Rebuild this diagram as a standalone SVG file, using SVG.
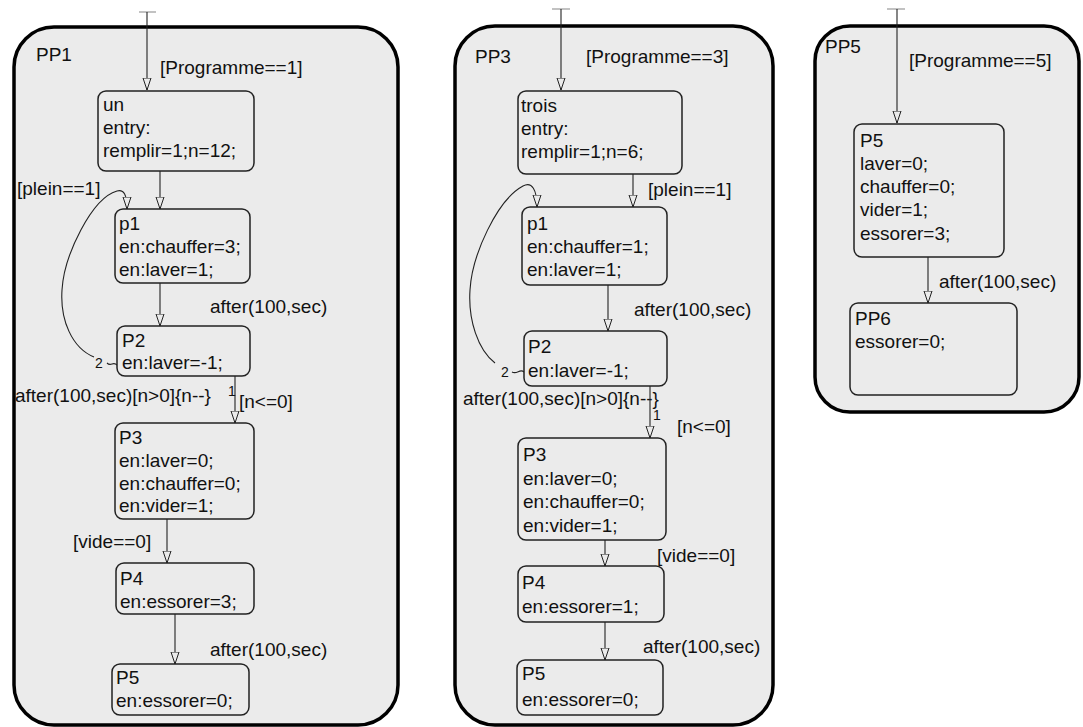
<svg xmlns="http://www.w3.org/2000/svg" width="1083" height="727" viewBox="0 0 1083 727">
<style>
text{font-family:"Liberation Sans",Arial,sans-serif;font-size:19px;fill:#111}
.sm{font-size:14px}
.outer{fill:#ebebeb;stroke:#000;stroke-width:3.5}
.st{fill:#ebebeb;stroke:#222;stroke-width:1.5}
.cn{fill:none;stroke:#222;stroke-width:1.1}
.tick{fill:none;stroke:#999;stroke-width:1.2}
</style>
<defs>
<marker id="arr" viewBox="0 0 13 10" refX="12.5" refY="5" markerWidth="13" markerHeight="10" markerUnits="userSpaceOnUse" orient="auto">
<path d="M0.5,1 L12.5,5 L0.5,9 Z" fill="#ebebeb" stroke="#222" stroke-width="1"/>
</marker>
</defs>
<rect width="1083" height="727" fill="#fff"/>

<g id="PP1">
<rect class="outer" x="14" y="27" width="384" height="698" rx="40"/>
<text x="36" y="61">PP1</text>
</g>
<g id="PP3">
<rect class="outer" x="455" y="26" width="318" height="699" rx="40"/>
<text x="475" y="63">PP3</text>
</g>
<g id="PP5">
<rect class="outer" x="815" y="26" width="264" height="386" rx="35"/>
<text x="825" y="53">PP5</text>
</g>

<g id="connectors">
<!-- PP1 -->
<path class="tick" d="M139,12 H156"/>
<path class="cn" d="M147,12 V90" marker-end="url(#arr)"/>
<text x="160" y="74">[Programme==1]</text>
<path class="cn" d="M160,171 V209" marker-end="url(#arr)"/>
<text x="17" y="195">[plein==1]</text>
<path class="cn" d="M160,283 V326" marker-end="url(#arr)"/>
<text x="210" y="313">after(100,sec)</text>
<path class="cn" d="M117,365 C113,361 111,367 107,363 M94,357 C72,348 60,320 62,290 C64,255 92,198 117,191 C124,189 127,195 127,209" marker-end="url(#arr)"/>
<text class="sm" x="95" y="368">2</text>
<text x="15" y="402">after(100,sec)[n&gt;0]{n--}</text>
<path class="cn" d="M235,376 V423" marker-end="url(#arr)"/>
<text class="sm" x="228" y="396">1</text>
<text x="239" y="408">[n&lt;=0]</text>
<path class="cn" d="M167,519 V563" marker-end="url(#arr)"/>
<text x="73" y="548">[vide==0]</text>
<path class="cn" d="M175,614 V664" marker-end="url(#arr)"/>
<text x="210" y="656">after(100,sec)</text>
<!-- PP3 -->
<path class="tick" d="M552,9 H570"/>
<path class="cn" d="M561,9 V90" marker-end="url(#arr)"/>
<text x="586" y="63">[Programme==3]</text>
<path class="cn" d="M633,174 V207" marker-end="url(#arr)"/>
<text x="648" y="196">[plein==1]</text>
<path class="cn" d="M608,285 V331" marker-end="url(#arr)"/>
<text x="634" y="316">after(100,sec)</text>
<path class="cn" d="M524,372 C520,368 517,375 512,372 M495,363 C478,350 468,320 470,290 C472,255 497,200 523,186 C532,181 537,190 537,207" marker-end="url(#arr)"/>
<text class="sm" x="501" y="377">2</text>
<text x="463" y="405">after(100,sec)[n&gt;0]{n--}</text>
<path class="cn" d="M650,386 V438" marker-end="url(#arr)"/>
<text class="sm" x="653" y="420">1</text>
<text x="677" y="433">[n&lt;=0]</text>
<path class="cn" d="M605,540 V566" marker-end="url(#arr)"/>
<text x="657" y="562">[vide==0]</text>
<path class="cn" d="M605,622 V660" marker-end="url(#arr)"/>
<text x="643" y="653">after(100,sec)</text>
<!-- PP5 -->
<path class="tick" d="M887,9 H905"/>
<path class="cn" d="M897,9 V123" marker-end="url(#arr)"/>
<text x="909" y="67">[Programme==5]</text>
<path class="cn" d="M928,257 V303" marker-end="url(#arr)"/>
<text x="939" y="288">after(100,sec)</text>
</g>

<g id="PP1_un">
<rect class="st" x="98" y="91" width="156" height="80" rx="8"/>
<text x="103" y="111">un</text>
<text x="103" y="134">entry:</text>
<text x="103" y="157">remplir=1;n=12;</text>
</g>
<g id="PP1_p1">
<rect class="st" x="115" y="209" width="135" height="74" rx="8"/>
<text x="119" y="230">p1</text>
<text x="119" y="253">en:chauffer=3;</text>
<text x="119" y="276">en:laver=1;</text>
</g>
<g id="PP1_P2">
<rect class="st" x="117" y="326" width="133" height="50" rx="8"/>
<text x="122" y="347">P2</text>
<text x="122" y="369">en:laver=-1;</text>
</g>
<g id="PP1_P3">
<rect class="st" x="115" y="423" width="139" height="96" rx="8"/>
<text x="119" y="444">P3</text>
<text x="119" y="467">en:laver=0;</text>
<text x="119" y="490">en:chauffer=0;</text>
<text x="119" y="512">en:vider=1;</text>
</g>
<g id="PP1_P4">
<rect class="st" x="116" y="563" width="138" height="51" rx="8"/>
<text x="120" y="585">P4</text>
<text x="120" y="608">en:essorer=3;</text>
</g>
<g id="PP1_P5">
<rect class="st" x="112" y="664" width="137" height="51" rx="8"/>
<text x="116" y="684">P5</text>
<text x="116" y="707">en:essorer=0;</text>
</g>

<g id="PP3_trois">
<rect class="st" x="518" y="91" width="164" height="83" rx="8"/>
<text x="521" y="112">trois</text>
<text x="521" y="135">entry:</text>
<text x="521" y="158">remplir=1;n=6;</text>
</g>
<g id="PP3_p1">
<rect class="st" x="522" y="207" width="145" height="78" rx="8"/>
<text x="527" y="230">p1</text>
<text x="527" y="253">en:chauffer=1;</text>
<text x="527" y="276">en:laver=1;</text>
</g>
<g id="PP3_P2">
<rect class="st" x="524" y="331" width="143" height="55" rx="8"/>
<text x="528" y="353">P2</text>
<text x="528" y="377">en:laver=-1;</text>
</g>
<g id="PP3_P3">
<rect class="st" x="518" y="438" width="148" height="102" rx="8"/>
<text x="523" y="461">P3</text>
<text x="523" y="485">en:laver=0;</text>
<text x="523" y="508">en:chauffer=0;</text>
<text x="523" y="532">en:vider=1;</text>
</g>
<g id="PP3_P4">
<rect class="st" x="518" y="566" width="146" height="56" rx="8"/>
<text x="522" y="589">P4</text>
<text x="522" y="613">en:essorer=1;</text>
</g>
<g id="PP3_P5">
<rect class="st" x="517" y="660" width="146" height="55" rx="8"/>
<text x="522" y="680">P5</text>
<text x="522" y="706">en:essorer=0;</text>
</g>

<g id="PP5_P5">
<rect class="st" x="854" y="124" width="150" height="133" rx="8"/>
<text x="860" y="147">P5</text>
<text x="860" y="170">laver=0;</text>
<text x="860" y="193">chauffer=0;</text>
<text x="860" y="216">vider=1;</text>
<text x="860" y="240">essorer=3;</text>
</g>
<g id="PP5_PP6">
<rect class="st" x="850" y="303" width="167" height="92" rx="8"/>
<text x="855" y="325">PP6</text>
<text x="855" y="348">essorer=0;</text>
</g>
</svg>
